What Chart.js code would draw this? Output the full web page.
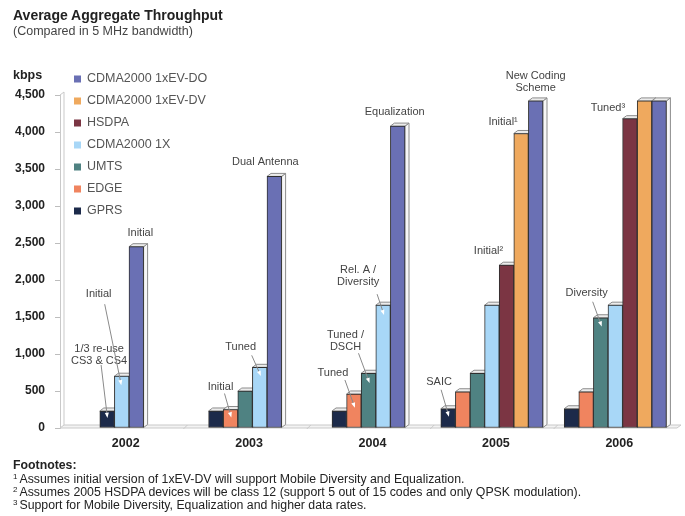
<!DOCTYPE html>
<html>
<head>
<meta charset="utf-8">
<script src="https://cdn.jsdelivr.net/npm/chart.js@4/dist/chart.umd.min.js"></script>
<style>
  html, body { margin: 0; padding: 0; background: #fff; }
  #wrap { position: relative; width: 685px; height: 516px; overflow: hidden;
          font-family: "Liberation Sans", Arial, sans-serif; color: #222; }
  #c { position: absolute; left: 0; top: 0; }
  .title { position: absolute; left: 13px; top: 7px; font-size: 14px; font-weight: bold; color: #222; white-space: nowrap; }
  .sub { position: absolute; left: 13px; top: 24px; font-size: 12.5px; color: #444; white-space: nowrap; }
  .fn { position: absolute; left: 13px; font-size: 12.3px; line-height: 13px; color: #222; white-space: nowrap; }
  .fn sup { font-size: 8px; line-height: 0; vertical-align: 4px; margin-right: 2px; }
</style>
</head>
<body>
<div id="wrap">
  <canvas id="c" width="685" height="516"></canvas>
  <div class="title">Average Aggregate Throughput</div>
  <div class="sub">(Compared in 5 MHz bandwidth)</div>
  <div class="fn" style="top:459px;font-weight:bold;">Footnotes:</div>
  <div class="fn" style="top:473px;"><sup>1</sup>Assumes initial version of 1xEV-DV will support Mobile Diversity and Equalization.</div>
  <div class="fn" style="top:486px;"><sup>2</sup>Assumes 2005 HSDPA devices will be class 12 (support 5 out of 15 codes and only QPSK modulation).</div>
  <div class="fn" style="top:499px;"><sup>3</sup>Support for Mobile Diversity, Equalization and higher data rates.</div>
</div>
<script>
// Average aggregate throughput per technology, kbps (null = not yet available)
const years   = ['2002', '2003', '2004', '2005', '2006'];
const gprs    = [230, 230, 230, 260, 260];
const edge    = [null, 250, 460, 490, 490];
const umts    = [null, 500, 740, 740, 1490];
const cdma1x  = [700, 820, 1660, 1660, 1660];
const hsdpa   = [null, null, null, 2200, 4180];
const evdv    = [null, null, null, 3980, 4420];
const evdo    = [2450, 3400, 4080, 4420, 4420];

const seriesNames  = ['GPRS', 'EDGE', 'UMTS', 'CDMA2000 1X', 'HSDPA', 'CDMA2000 1xEV-DV', 'CDMA2000 1xEV-DO'];
const seriesValues = [gprs, edge, umts, cdma1x, hsdpa, evdv, evdo];
const seriesColors = ['#1c2a4a', '#f0845f', '#4f8282', '#a8d7f7', '#7b3543', '#efa95e', '#6a70b4'];

const yMax = 4500;
const yStep = 500;

const FONT = '"Liberation Sans", Arial, sans-serif';
const DX = 4, DY = 3;   // depth of the pseudo-3D extrusion

// Callouts attached to individual bars: text offset from the bar top, optional leader line
const callouts = [
  { series: 'GPRS',             year: '2002', lines: ['1/3 re-use', 'CS3 & CS4'], dx: -8,  dy: -62, lead: [-6, -46, 0, 4] },
  { series: 'CDMA2000 1X',      year: '2002', lines: ['Initial'],                 dx: -23, dy: -82, lead: [-17, -72, -1, 6] },
  { series: 'CDMA2000 1xEV-DO', year: '2002', lines: ['Initial'],                 dx: 4,   dy: -14 },
  { series: 'EDGE',             year: '2003', lines: ['Initial'],                 dx: -10, dy: -23, lead: [-6, -16, 0, 5] },
  { series: 'CDMA2000 1X',      year: '2003', lines: ['Tuned'],                   dx: -19, dy: -20, lead: [-8, -12, 0, 6] },
  { series: 'CDMA2000 1xEV-DO', year: '2003', lines: ['Dual Antenna'],            dx: -9,  dy: -14 },
  { series: 'EDGE',             year: '2004', lines: ['Tuned'],                   dx: -21, dy: -21, lead: [-9, -14, 0, 11] },
  { series: 'UMTS',             year: '2004', lines: ['Tuned /', 'DSCH'],         dx: -23, dy: -38, lead: [-10, -20, 0, 7] },
  { series: 'CDMA2000 1X',      year: '2004', lines: ['Rel. A /', 'Diversity'],   dx: -25, dy: -35, lead: [-6, -11, 0, 7] },
  { series: 'CDMA2000 1xEV-DO', year: '2004', lines: ['Equalization'],            dx: -3,  dy: -14 },
  { series: 'GPRS',             year: '2005', lines: ['SAIC'],                    dx: -9,  dy: -27, lead: [-7, -19, 0, 5] },
  { series: 'HSDPA',            year: '2005', lines: ['Initial\u00B2'],           dx: -18, dy: -14 },
  { series: 'CDMA2000 1xEV-DV', year: '2005', lines: ['Initial\u00B9'],           dx: -18, dy: -12 },
  { series: 'CDMA2000 1xEV-DO', year: '2005', lines: ['New Coding', 'Scheme'],     dx: 0,   dy: -25 },
  { series: 'UMTS',             year: '2006', lines: ['Diversity'],               dx: -14, dy: -25, lead: [-8, -16, 0, 6] },
  { series: 'HSDPA',            year: '2006', lines: ['Tuned\u00B3'],             dx: -22, dy: -11 }
];

function barAt(chart, series, year) {
  const di = chart.data.datasets.findIndex(d => d.label === series);
  const idx = chart.data.labels.indexOf(year);
  if (di < 0 || idx < 0) return null;
  const el = chart.getDatasetMeta(di).data[idx];
  if (!el || chart.data.datasets[di].data[idx] == null) return null;
  return el.getProps(['x', 'y', 'base', 'width'], true);
}

// Floor, back wall and bar extrusions (drawn under the bar fronts)
const depthPlugin = {
  id: 'depth3d',
  beforeDatasetsDraw(chart) {
    const { ctx, chartArea: a } = chart;
    ctx.save();
    ctx.lineWidth = 1;
    ctx.strokeStyle = '#c9c9c9';
    // floor
    ctx.fillStyle = '#f3f3f3';
    ctx.beginPath();
    ctx.moveTo(a.left, a.bottom);
    ctx.lineTo(a.left + DX, a.bottom - DY);
    ctx.lineTo(a.right + DX, a.bottom - DY);
    ctx.lineTo(a.right, a.bottom);
    ctx.closePath();
    ctx.fill();
    ctx.stroke();
    const n = chart.data.labels.length;
    for (let k = 1; k < n; k++) {
      const x = a.left + (a.right - a.left) * k / n;
      ctx.beginPath();
      ctx.moveTo(x, a.bottom + 1);
      ctx.lineTo(x + DX, a.bottom - DY);
      ctx.stroke();
    }
    // back edge of the value wall
    ctx.beginPath();
    ctx.moveTo(a.left, a.top);
    ctx.lineTo(a.left + DX, a.top - DY);
    ctx.lineTo(a.left + DX, a.bottom - DY);
    ctx.stroke();

    // bar tops and right-hand sides
    chart.data.datasets.forEach((ds, di) => {
      const meta = chart.getDatasetMeta(di);
      meta.data.forEach((el, i) => {
        if (ds.data[i] == null) return;
        const p = el.getProps(['x', 'y', 'base', 'width'], true);
        const l = p.x - p.width / 2, r = p.x + p.width / 2;
        ctx.strokeStyle = '#8c8c8c';
        ctx.fillStyle = '#f7f7f7';
        ctx.beginPath();
        ctx.moveTo(r, p.y);
        ctx.lineTo(r + DX, p.y - DY);
        ctx.lineTo(r + DX, p.base - DY);
        ctx.lineTo(r, p.base);
        ctx.closePath();
        ctx.fill();
        ctx.stroke();
        ctx.fillStyle = '#ececec';
        ctx.beginPath();
        ctx.moveTo(l, p.y);
        ctx.lineTo(l + DX, p.y - DY);
        ctx.lineTo(r + DX, p.y - DY);
        ctx.lineTo(r, p.y);
        ctx.closePath();
        ctx.fill();
        ctx.stroke();
      });
    });
    ctx.restore();
  }
};

// Callout texts and leader lines
const calloutPlugin = {
  id: 'callouts',
  afterDatasetsDraw(chart) {
    const ctx = chart.ctx;
    ctx.save();
    ctx.font = '11px ' + FONT;
    ctx.textAlign = 'center';
    ctx.textBaseline = 'middle';
    callouts.forEach(c => {
      const p = barAt(chart, c.series, c.year);
      if (!p) return;
      ctx.fillStyle = '#444';
      c.lines.forEach((t, j) => {
        ctx.fillText(t, p.x + c.dx, p.y + c.dy + j * 12);
      });
      if (c.lead) {
        const [x1, y1, x2, y2] = c.lead;
        ctx.strokeStyle = '#8a8a8a';
        ctx.lineWidth = 1;
        ctx.beginPath();
        ctx.moveTo(p.x + x1, p.y + y1);
        ctx.lineTo(p.x + x2, p.y + y2);
        ctx.stroke();
        // small white tip where the leader meets the bar
        const ang = Math.atan2(y2 - y1, x2 - x1);
        const tx = p.x + x2, ty = p.y + y2;
        ctx.fillStyle = '#ffffff';
        ctx.beginPath();
        ctx.moveTo(tx + Math.cos(ang) * 3, ty + Math.sin(ang) * 3);
        ctx.lineTo(tx + Math.cos(ang + 2.4) * 3, ty + Math.sin(ang + 2.4) * 3);
        ctx.lineTo(tx + Math.cos(ang - 2.4) * 3, ty + Math.sin(ang - 2.4) * 3);
        ctx.closePath();
        ctx.fill();
      }
    });
    ctx.restore();
  }
};

// Legend block in the upper-left of the plot (top entry = last series) and unit label
const legendPlugin = {
  id: 'blockLegend',
  afterDraw(chart) {
    const ctx = chart.ctx;
    const ds = chart.data.datasets;
    ctx.save();
    ctx.textBaseline = 'middle';
    ctx.textAlign = 'left';
    ctx.font = '12.5px ' + FONT;
    for (let i = 0; i < ds.length; i++) {
      const d = ds[ds.length - 1 - i];
      const y = 79 + i * 22;
      ctx.fillStyle = d.backgroundColor;
      ctx.fillRect(74, y - 3.5, 7, 7);
      ctx.fillStyle = '#555';
      ctx.fillText(d.label, 87, y);
    }
    ctx.font = 'bold 12.5px ' + FONT;
    ctx.fillStyle = '#222';
    ctx.fillText('kbps', 13, 76);
    ctx.restore();
  }
};

new Chart(document.getElementById('c'), {
  type: 'bar',
  data: {
    labels: years,
    datasets: seriesNames.map((name, i) => ({
      label: name,
      data: seriesValues[i],
      backgroundColor: seriesColors[i],
      borderColor: '#2f2f2f',
      borderWidth: 1,
      borderSkipped: false
    }))
  },
  options: {
    responsive: false,
    animation: false,
    events: [],
    layout: { padding: { left: 0, right: 8, top: 95, bottom: 0 } },
    datasets: { bar: { skipNull: true, barThickness: 14.6, clip: false } },
    plugins: { legend: { display: false }, tooltip: { enabled: false }, title: { display: false } },
    scales: {
      x: {
        grid: { display: false },
        border: { display: false },
        ticks: { color: '#222', font: { family: FONT, size: 12.5, weight: 'bold' }, padding: 0, labelOffset: 4 },
        afterFit: s => { s.height = 88; }
      },
      y: {
        min: 0,
        max: yMax,
        ticks: { stepSize: yStep, color: '#222', padding: 10, font: { family: FONT, size: 12, weight: 'bold' } },
        grid: { drawOnChartArea: false, drawTicks: true, tickLength: 5, color: '#bdbdbd' },
        border: { color: '#c9c9c9' },
        afterFit: s => { s.width = 60; }
      }
    }
  },
  plugins: [depthPlugin, calloutPlugin, legendPlugin]
});
</script>
</body>
</html>
